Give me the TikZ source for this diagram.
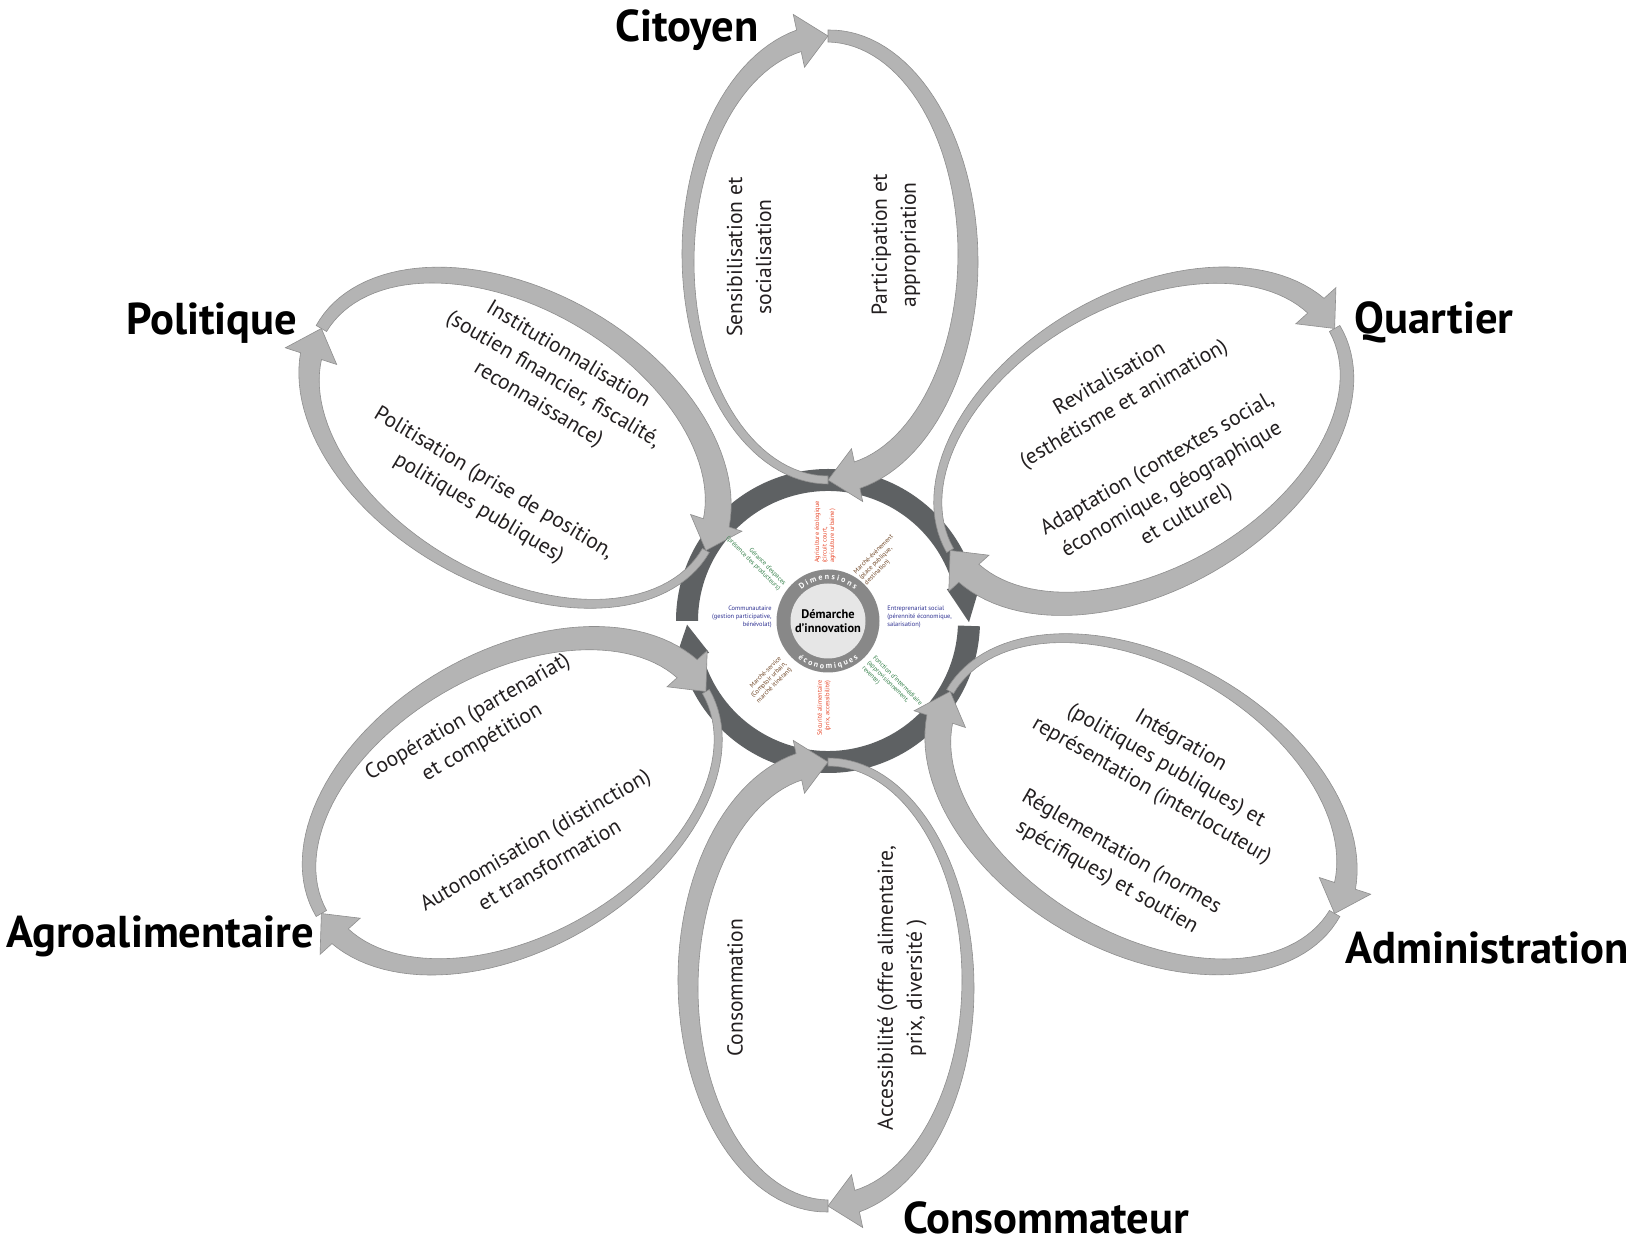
\documentclass[tikz,border=0pt]{standalone}
\usepackage{fontspec}
\setmainfont{PT Sans}
\usetikzlibrary{decorations.text}
\definecolor{petalfill}{HTML}{B4B4B4}
\definecolor{petaledge}{HTML}{8E8E8E}
\definecolor{ringdark}{HTML}{5E6163}
\definecolor{ringmid}{HTML}{888888}
\definecolor{disklight}{HTML}{E6E6E6}
\definecolor{cred}{HTML}{E8482A}
\definecolor{cbrown}{HTML}{6E4423}
\definecolor{cblue}{HTML}{2E3192}
\definecolor{cgreen}{HTML}{2F7D45}
\definecolor{ctext}{HTML}{231F20}
\begin{document}
\begin{tikzpicture}[x=0.5pt,y=0.5pt,
  declare function={hA(\t)=0.5*(8+14*((270-\t)/168)*((270-\t)/168)); hB(\t)=0.5*(12+15*((90-\t)/168));},
  petalarrow/.style={fill=petalfill,draw=petaledge,line width=0.3pt},
  ptxt/.style={font=\fontsize{10.8}{14.5}\selectfont,align=center,inner sep=0pt,text=ctext},
  lab/.style={font=\fontsize{22.3}{24}\selectfont\bfseries,inner sep=0pt,text=black},
  small/.style={font=\fontsize{3.2}{3.8}\selectfont,inner sep=0pt}]
\useasboundingbox (0,0) rectangle (1629,1243);
\fill[white] (0,0) rectangle (1629,1243);
\def\PetA{140}\def\PetB{222}\def\PetD{363}\def\PetH{27}
% dark ring (two circular arrows)
\begin{scope}[shift={(828,622)}]
\fill[ringdark] (180:152) arc[start angle=180,end angle=15,radius=152] -- (15:159) -- (-0.5:141) -- (15:123) -- (15:130) arc[start angle=15,end angle=180,radius=130] -- cycle;
\fill[ringdark] (-2:152) arc[start angle=-2,end angle=-165,radius=152] -- (-165:159) -- (-178.5:141) -- (-165:123) -- (-165:130) arc[start angle=-165,end angle=-2,radius=130] -- cycle;
\end{scope}
% petals
\foreach \r in {0,-60,-120,180,120,60}{
\begin{scope}[shift={(828,622)},rotate=\r]
\filldraw[petalarrow] plot[domain=270:102,samples=60] ({(\PetA+hA(\x))*cos(\x)},{\PetD+(\PetB+hA(\x))*sin(\x)})
 -- ({(\PetA+\PetH)*cos(102)},{\PetD+(\PetB+\PetH)*sin(102)})
 -- (0,{\PetD+\PetB})
 -- ({(\PetA-\PetH)*cos(102)},{\PetD+(\PetB-\PetH)*sin(102)})
 -- plot[domain=102:270,samples=60] ({(\PetA-hA(\x))*cos(\x)},{\PetD+(\PetB-hA(\x))*sin(\x)}) -- cycle;
\filldraw[petalarrow] plot[domain=90:-78,samples=60] ({(\PetA+hB(\x))*cos(\x)},{\PetD+(\PetB+hB(\x))*sin(\x)})
 -- ({(\PetA+\PetH)*cos(-78)},{\PetD+(\PetB+\PetH)*sin(-78)})
 -- (0,{\PetD-\PetB})
 -- ({(\PetA-\PetH)*cos(-78)},{\PetD+(\PetB-\PetH)*sin(-78)})
 -- plot[domain=-78:90,samples=60] ({(\PetA-hB(\x))*cos(\x)},{\PetD+(\PetB-hB(\x))*sin(\x)}) -- cycle;
\end{scope}
}
% centre
\begin{scope}[shift={(828,622)}]
\fill[ringmid] (0,0) circle[radius=51.5];
\fill[disklight] (0,0) circle[radius=37.5];
\path[decorate,decoration={text along path,text align=center,text color=white,text={|\bfseries\fontsize{4}{4.5}\selectfont|D\ i\ m\ e\ n\ s\ i\ o\ n\ s}}] (145:41.2) arc[start angle=145,end angle=35,radius=41.2];
\path[decorate,decoration={text along path,text align=center,text color=white,text={|\bfseries\fontsize{4}{4.5}\selectfont|é\ c\ o\ n\ o\ m\ i\ q\ u\ e\ s}}] (215:47.8) arc[start angle=215,end angle=325,radius=47.8];
\end{scope}
\node[font=\fontsize{6.2}{7}\selectfont\bfseries,align=center,inner sep=0pt] (dem) at (828,622) {Démarche\\d’innovation};
% small labels
\node[small,text=cred,rotate=90,align=left] (agri) at (825,711) {Agriculture écologique\\(circuit court,\\agriculture urbaine)};
\node[small,text=cbrown,rotate=45,align=left] (mev) at (879,683) {Marché-événement\\(place publique,\\destination)};
\node[small,text=cblue,align=left,anchor=west] (entr) at (887,626) {Entreprenariat social\\(pérennité économique,\\salarisation)};
\node[small,text=cgreen,rotate=-45,align=left] (fonc) at (892,557) {Fonction d’intermédiaire\\(approvisionnement,\\revente)};
\node[small,text=cred,rotate=90,align=right] (secu) at (824,535) {Sécurité alimentaire\\(prix, accessibilité)};
\node[small,text=cbrown,rotate=45,align=right] (mser) at (769,563) {Marché-service\\(Comptoir urbain,\\marché itinérant)};
\node[small,text=cblue,align=right,anchor=east] (comm) at (772,626) {Communautaire\\(gestion participative,\\bénévolat)};
\node[small,text=cgreen,rotate=-45,align=right] (gera) at (756,682) {Gérance d’espaces\\(présence des producteurs)};
% petal texts
\node[ptxt,rotate=90] (p1a) at (749,986) {Sensibilisation et\\socialisation};
\node[ptxt,rotate=90] (p1b) at (896,998) {Participation et\\appropriation};
\node[ptxt,rotate=90] (p4a) at (735,255) {Consommation};
\node[ptxt,rotate=90] (p4b) at (902,255) {Accessibilité (offre alimentaire,\\prix, diversité )};
\node[ptxt,rotate=-31] (p6a) at (553,863) {Institutionnalisation\\(soutien financier, fiscalité,\\reconnaissance)};
\node[ptxt,rotate=-31] (p6b) at (486,747) {Politisation (prise de position,\\politiques publiques)};
\node[ptxt,rotate=30] (p2a) at (1117,851) {Revitalisation\\(esthétisme et animation)};
\node[ptxt,rotate=30] (p2b) at (1172,753) {Adaptation (contextes social,\\économique, géographique\\et culturel)};
\node[ptxt,rotate=30] (p5a) at (475,513) {Coopération (partenariat)\\et compétition};
\node[ptxt,rotate=30] (p5b) at (542,391) {Autonomisation (distinction)\\et transformation};
\node[ptxt,rotate=-30] (p3a) at (1166,477) {Intégration\\(politiques publiques) et\\représentation (interlocuteur)};
\node[ptxt,rotate=-30] (p3b) at (1114,378) {Réglementation (normes\\spécifiques) et soutien};
% labels
\node[lab,anchor=base] (citoyen) at (687,1201) {Citoyen};
\node[lab,anchor=base] (quartier) at (1434,909) {Quartier};
\node[lab,anchor=base] (politique) at (212,908) {Politique};
\node[lab,anchor=base] (agro) at (160,295) {Agroalimentaire};
\node[lab,anchor=base] (admin) at (1487,279) {Administration};
\node[lab,anchor=base] (conso) at (1046,9) {Consommateur};
\end{tikzpicture}
\end{document}
